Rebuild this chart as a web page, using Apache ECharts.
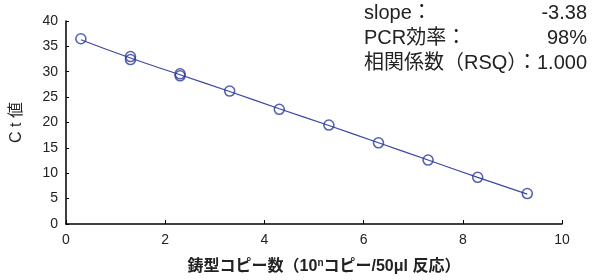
<!DOCTYPE html>
<html>
<head>
<meta charset="utf-8">
<script src="https://cdn.jsdelivr.net/npm/echarts@6/dist/echarts.min.js"></script>
<style>
  html, body { margin: 0; padding: 0; background: #fff; }
  #chart { width: 592px; height: 280px; }
</style>
</head>
<body>
<div id="chart"></div>
<script>
// measured points (log10 copies, Ct)
const copyLog = [0.3, 1.3, 1.3, 2.3, 2.3, 3.3, 4.3, 5.3, 6.3, 7.3, 8.3, 9.3];
const ctValues = [36.5, 33.0, 32.4, 29.6, 29.2, 26.2, 22.6, 19.5, 16.0, 12.6, 9.2, 6.0];

// drawn standard curve
const curveX = [0.3, 1.3, 2.3, 3.3, 4.3, 5.3, 6.3, 7.3, 8.3, 9.3];
const curveCt = [36.3, 32.7, 29.4, 26.1, 22.7, 19.4, 16.0, 12.6, 9.2, 5.9];

const statLabels = ['slope：', 'PCR効率：', '相関係数（RSQ）：'];
const statValues = ['-3.38', '98%', '1.000'];

const FONT = '"Liberation Sans", Arial, "Noto Sans CJK JP", sans-serif';
const BLUE = '#2e3c9c';

var myChart = echarts.init(document.getElementById('chart'));

const statTexts = [];
statLabels.forEach((lab, i) => {
    statTexts.push({
        type: 'text', left: 364, top: 3 + i * 25,
        style: { text: lab, fontSize: 20, fontFamily: FONT, fill: '#222' }
    });
    statTexts.push({
        type: 'text', right: 5, top: 3 + i * 25,
        style: { text: statValues[i], fontSize: 20, fontFamily: FONT, fill: '#222', align: 'right' }
    });
});

let option = {
    animation: false,
    textStyle: { fontFamily: FONT },
    grid: { left: 66, right: 30, top: 21, bottom: 56 },
    xAxis: {
        type: 'value',
        min: 0, max: 10, interval: 2,
        name: '{a|鋳型コピー数（10}{s|n}{a|コピー/50μl 反応）}',
        nameLocation: 'middle',
        nameGap: 34,
        nameTextStyle: {
            padding: [0, 0, 0, 20],
            rich: {
                a: { fontSize: 16, fontWeight: 'bold', color: '#222', fontFamily: FONT, lineHeight: 18 },
                s: { fontSize: 10, fontWeight: 'bold', color: '#222', fontFamily: FONT, lineHeight: 18, verticalAlign: 'top' }
            }
        },
        axisLine: { lineStyle: { color: '#000', width: 1.5 } },
        axisTick: { inside: true, length: 4, lineStyle: { color: '#000' } },
        axisLabel: { fontSize: 14, color: '#222', margin: 9 },
        splitLine: { show: false }
    },
    yAxis: {
        type: 'value',
        min: 0, max: 40, interval: 5,
        name: 'C t 値',
        nameLocation: 'middle',
        nameGap: 41,
        nameTextStyle: { fontSize: 16, color: '#222' },
        axisLine: { show: true, lineStyle: { color: '#000', width: 1.5 } },
        axisTick: { show: true, inside: true, length: 3, lineStyle: { color: '#000' } },
        axisLabel: { fontSize: 14, color: '#222', margin: 8 },
        splitLine: { show: false }
    },
    graphic: statTexts,
    series: [
        {
            type: 'line',
            data: curveX.map((x, i) => [x, curveCt[i]]),
            showSymbol: false,
            smooth: true,
            lineStyle: { color: '#3b48a6', width: 1.2 },
            z: 2
        },
        {
            type: 'scatter',
            data: copyLog.map((x, i) => [x, ctValues[i]]),
            symbol: 'circle',
            symbolSize: 10,
            itemStyle: { color: 'rgba(0,0,0,0)', borderColor: BLUE, borderWidth: 1.6 },
            z: 3
        }
    ]
};

option && myChart.setOption(option);
</script>
</body>
</html>
